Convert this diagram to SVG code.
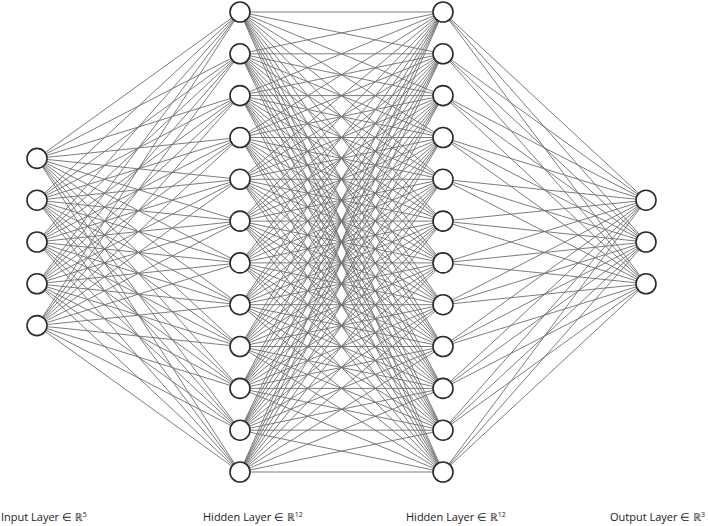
<svg xmlns="http://www.w3.org/2000/svg" width="708" height="526" viewBox="0 0 708 526">
<style>
.c{fill:none;stroke:#6e6e6e;stroke-width:0.9}
.n{fill:#fff;stroke:#2a2a2a;stroke-width:1.6}
.t{font-family:"Open Sans","Noto Sans",sans-serif;font-size:11px;fill:#222}
.s{font-size:7px}
</style>
<rect width="708" height="526" fill="#fff"/>
<g id="connectors">
<path class="c" d="M240 12L37 158.4M240 12L37 200.2M240 12L37 242M240 12L37 283.8M240 12L37 325.6
M240 53.8L37 158.4M240 53.8L37 200.2M240 53.8L37 242M240 53.8L37 283.8M240 53.8L37 325.6
M240 95.6L37 158.4M240 95.6L37 200.2M240 95.6L37 242M240 95.6L37 283.8M240 95.6L37 325.6
M240 137.5L37 158.4M240 137.5L37 200.2M240 137.5L37 242M240 137.5L37 283.8M240 137.5L37 325.6
M240 179.3L37 158.4M240 179.3L37 200.2M240 179.3L37 242M240 179.3L37 283.8M240 179.3L37 325.6
M240 221.1L37 158.4M240 221.1L37 200.2M240 221.1L37 242M240 221.1L37 283.8M240 221.1L37 325.6
M240 262.9L37 158.4M240 262.9L37 200.2M240 262.9L37 242M240 262.9L37 283.8M240 262.9L37 325.6
M240 304.7L37 158.4M240 304.7L37 200.2M240 304.7L37 242M240 304.7L37 283.8M240 304.7L37 325.6
M240 346.5L37 158.4M240 346.5L37 200.2M240 346.5L37 242M240 346.5L37 283.8M240 346.5L37 325.6
M240 388.4L37 158.4M240 388.4L37 200.2M240 388.4L37 242M240 388.4L37 283.8M240 388.4L37 325.6
M240 430.2L37 158.4M240 430.2L37 200.2M240 430.2L37 242M240 430.2L37 283.8M240 430.2L37 325.6
M240 472L37 158.4M240 472L37 200.2M240 472L37 242M240 472L37 283.8M240 472L37 325.6"/>
<path class="c" d="M443 12L240 12M443 12L240 53.8M443 12L240 95.6M443 12L240 137.5M443 12L240 179.3M443 12L240 221.1M443 12L240 262.9M443 12L240 304.7M443 12L240 346.5M443 12L240 388.4M443 12L240 430.2M443 12L240 472
M443 53.8L240 12M443 53.8L240 53.8M443 53.8L240 95.6M443 53.8L240 137.5M443 53.8L240 179.3M443 53.8L240 221.1M443 53.8L240 262.9M443 53.8L240 304.7M443 53.8L240 346.5M443 53.8L240 388.4M443 53.8L240 430.2M443 53.8L240 472
M443 95.6L240 12M443 95.6L240 53.8M443 95.6L240 95.6M443 95.6L240 137.5M443 95.6L240 179.3M443 95.6L240 221.1M443 95.6L240 262.9M443 95.6L240 304.7M443 95.6L240 346.5M443 95.6L240 388.4M443 95.6L240 430.2M443 95.6L240 472
M443 137.5L240 12M443 137.5L240 53.8M443 137.5L240 95.6M443 137.5L240 137.5M443 137.5L240 179.3M443 137.5L240 221.1M443 137.5L240 262.9M443 137.5L240 304.7M443 137.5L240 346.5M443 137.5L240 388.4M443 137.5L240 430.2M443 137.5L240 472
M443 179.3L240 12M443 179.3L240 53.8M443 179.3L240 95.6M443 179.3L240 137.5M443 179.3L240 179.3M443 179.3L240 221.1M443 179.3L240 262.9M443 179.3L240 304.7M443 179.3L240 346.5M443 179.3L240 388.4M443 179.3L240 430.2M443 179.3L240 472
M443 221.1L240 12M443 221.1L240 53.8M443 221.1L240 95.6M443 221.1L240 137.5M443 221.1L240 179.3M443 221.1L240 221.1M443 221.1L240 262.9M443 221.1L240 304.7M443 221.1L240 346.5M443 221.1L240 388.4M443 221.1L240 430.2M443 221.1L240 472
M443 262.9L240 12M443 262.9L240 53.8M443 262.9L240 95.6M443 262.9L240 137.5M443 262.9L240 179.3M443 262.9L240 221.1M443 262.9L240 262.9M443 262.9L240 304.7M443 262.9L240 346.5M443 262.9L240 388.4M443 262.9L240 430.2M443 262.9L240 472
M443 304.7L240 12M443 304.7L240 53.8M443 304.7L240 95.6M443 304.7L240 137.5M443 304.7L240 179.3M443 304.7L240 221.1M443 304.7L240 262.9M443 304.7L240 304.7M443 304.7L240 346.5M443 304.7L240 388.4M443 304.7L240 430.2M443 304.7L240 472
M443 346.5L240 12M443 346.5L240 53.8M443 346.5L240 95.6M443 346.5L240 137.5M443 346.5L240 179.3M443 346.5L240 221.1M443 346.5L240 262.9M443 346.5L240 304.7M443 346.5L240 346.5M443 346.5L240 388.4M443 346.5L240 430.2M443 346.5L240 472
M443 388.4L240 12M443 388.4L240 53.8M443 388.4L240 95.6M443 388.4L240 137.5M443 388.4L240 179.3M443 388.4L240 221.1M443 388.4L240 262.9M443 388.4L240 304.7M443 388.4L240 346.5M443 388.4L240 388.4M443 388.4L240 430.2M443 388.4L240 472
M443 430.2L240 12M443 430.2L240 53.8M443 430.2L240 95.6M443 430.2L240 137.5M443 430.2L240 179.3M443 430.2L240 221.1M443 430.2L240 262.9M443 430.2L240 304.7M443 430.2L240 346.5M443 430.2L240 388.4M443 430.2L240 430.2M443 430.2L240 472
M443 472L240 12M443 472L240 53.8M443 472L240 95.6M443 472L240 137.5M443 472L240 179.3M443 472L240 221.1M443 472L240 262.9M443 472L240 304.7M443 472L240 346.5M443 472L240 388.4M443 472L240 430.2M443 472L240 472"/>
<path class="c" d="M646 200.2L443 12M646 200.2L443 53.8M646 200.2L443 95.6M646 200.2L443 137.5M646 200.2L443 179.3M646 200.2L443 221.1M646 200.2L443 262.9M646 200.2L443 304.7M646 200.2L443 346.5M646 200.2L443 388.4M646 200.2L443 430.2M646 200.2L443 472
M646 242L443 12M646 242L443 53.8M646 242L443 95.6M646 242L443 137.5M646 242L443 179.3M646 242L443 221.1M646 242L443 262.9M646 242L443 304.7M646 242L443 346.5M646 242L443 388.4M646 242L443 430.2M646 242L443 472
M646 283.8L443 12M646 283.8L443 53.8M646 283.8L443 95.6M646 283.8L443 137.5M646 283.8L443 179.3M646 283.8L443 221.1M646 283.8L443 262.9M646 283.8L443 304.7M646 283.8L443 346.5M646 283.8L443 388.4M646 283.8L443 430.2M646 283.8L443 472"/>
</g>
<g id="input-layer">
<circle class="n" cx="37" cy="158.4" r="10"/>
<circle class="n" cx="37" cy="200.2" r="10"/>
<circle class="n" cx="37" cy="242" r="10"/>
<circle class="n" cx="37" cy="283.8" r="10"/>
<circle class="n" cx="37" cy="325.6" r="10"/>
</g>
<g id="hidden-layer-1">
<circle class="n" cx="240" cy="12" r="10"/>
<circle class="n" cx="240" cy="53.8" r="10"/>
<circle class="n" cx="240" cy="95.6" r="10"/>
<circle class="n" cx="240" cy="137.5" r="10"/>
<circle class="n" cx="240" cy="179.3" r="10"/>
<circle class="n" cx="240" cy="221.1" r="10"/>
<circle class="n" cx="240" cy="262.9" r="10"/>
<circle class="n" cx="240" cy="304.7" r="10"/>
<circle class="n" cx="240" cy="346.5" r="10"/>
<circle class="n" cx="240" cy="388.4" r="10"/>
<circle class="n" cx="240" cy="430.2" r="10"/>
<circle class="n" cx="240" cy="472" r="10"/>
</g>
<g id="hidden-layer-2">
<circle class="n" cx="443" cy="12" r="10"/>
<circle class="n" cx="443" cy="53.8" r="10"/>
<circle class="n" cx="443" cy="95.6" r="10"/>
<circle class="n" cx="443" cy="137.5" r="10"/>
<circle class="n" cx="443" cy="179.3" r="10"/>
<circle class="n" cx="443" cy="221.1" r="10"/>
<circle class="n" cx="443" cy="262.9" r="10"/>
<circle class="n" cx="443" cy="304.7" r="10"/>
<circle class="n" cx="443" cy="346.5" r="10"/>
<circle class="n" cx="443" cy="388.4" r="10"/>
<circle class="n" cx="443" cy="430.2" r="10"/>
<circle class="n" cx="443" cy="472" r="10"/>
</g>
<g id="output-layer">
<circle class="n" cx="646" cy="200.2" r="10"/>
<circle class="n" cx="646" cy="242" r="10"/>
<circle class="n" cx="646" cy="283.8" r="10"/>
</g>
<g id="labels">
<text class="t" x="1" y="521">Input Layer ∈ ℝ<tspan class="s" dy="-4">5</tspan></text>
<text class="t" x="203" y="521">Hidden Layer ∈ ℝ<tspan class="s" dy="-4">12</tspan></text>
<text class="t" x="406" y="521">Hidden Layer ∈ ℝ<tspan class="s" dy="-4">12</tspan></text>
<text class="t" x="610" y="521">Output Layer ∈ ℝ<tspan class="s" dy="-4">3</tspan></text>
</g>
</svg>
